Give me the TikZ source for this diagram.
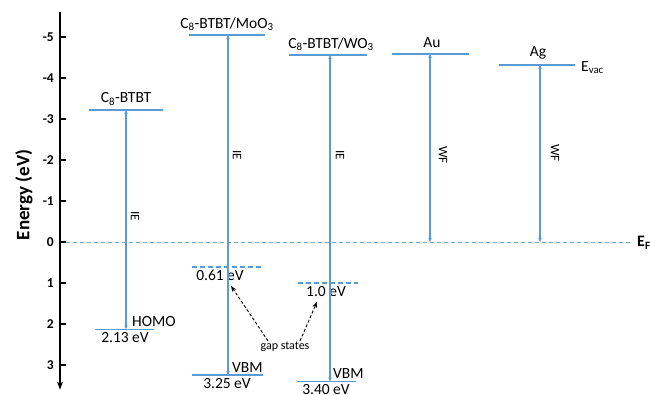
\documentclass[tikz,border=0pt]{standalone}
\usepackage{fontspec}
\setmainfont{Carlito}
\usetikzlibrary{arrows.meta}
\definecolor{levelblue}{RGB}{91,155,213}
\tikzset{
  level/.style={levelblue, line width=1.6pt},
  gaplevel/.style={levelblue, line width=1.6pt, dash pattern=on 5pt off 3pt},
  fermiline/.style={levelblue!85, line width=0.8pt, dash pattern=on 4pt off 3pt},
  ieline/.style={levelblue, line width=1.2pt, {Stealth[length=4pt,width=3.5pt]}-{Stealth[length=4pt,width=3.5pt]}},
  lbl/.style={font=\fontsize{15.5}{17}\selectfont, inner sep=1pt},
  vlbl/.style={font=\fontsize{13}{15}\selectfont, rotate=-90, inner sep=0pt},
  gaparrow/.style={black, line width=0.9pt, dash pattern=on 3pt off 2pt, -{Stealth[length=6pt,width=4.5pt]}}
}
\begin{document}
\begin{tikzpicture}[x=1pt, y={(0,-41pt)}]
    \useasboundingbox (0,-5.902) rectangle (650,3.732);

    % Axis
    \draw[line width=1.8pt, -{Stealth[length=8pt,width=6pt]}] (60,-5.61) -- (60,3.6);
    \foreach \e in {-5,...,3}{
        \draw[line width=1.5pt] (60,\e) -- (66,\e);
        \node[anchor=east, font=\bfseries\fontsize{13.5}{15}\selectfont, inner sep=0pt] (tick\e) at (54,\e) {\e};
    }
    \node[rotate=90, font=\bfseries\fontsize{19}{22}\selectfont] (ylabel) at (24,-1.15) {Energy (eV)};

    % Fermi level
    \draw[fermiline] (66,0) -- (633,0);
    \node[anchor=west, font=\bfseries\fontsize{16}{18}\selectfont, inner sep=0pt] (ef) at (637,0.02) {E\textsubscript{F}};

    % C8-BTBT
    \draw[level] (89,-3.22) -- (163,-3.22);
    \node[lbl, anchor=south] (btbt) at (126,-3.30) {C\textsubscript{8}-BTBT};
    \draw[level] (95,2.13) -- (154,2.13);
    \node[lbl, anchor=south west] (homo) at (131,2.10) {HOMO};
    \node[lbl, anchor=north] (homoval) at (125,2.18) {2.13 eV};
    \coordinate (btbtL) at (126,-3.22);
    \coordinate (btbtH) at (126,2.13);
    \draw[ieline] (btbtH) -- (btbtL);
    \node[vlbl] (ie1) at (135,-0.63) {IE};

    % C8-BTBT/MoO3
    \draw[level] (189,-5.05) -- (265,-5.05);
    \node[lbl, anchor=south] (moo) at (227,-5.12) {C\textsubscript{8}-BTBT/MoO\textsubscript{3}};
    \draw[gaplevel] (192,0.61) -- (263,0.61);
    \node[lbl, anchor=north] (mooval) at (220,0.66) {0.61 eV};
    \draw[level] (192,3.25) -- (263,3.25);
    \node[lbl, anchor=south west] (moovbm) at (231,3.22) {VBM};
    \node[lbl, anchor=north] (moovbmval) at (227,3.30) {3.25 eV};
    \coordinate (mooL) at (228,-5.05);
    \coordinate (mooH) at (228,3.25);
    \draw[ieline] (mooH) -- (mooL);
    \node[vlbl] (ie2) at (237,-2.12) {IE};

    % C8-BTBT/WO3
    \draw[level] (289,-4.56) -- (367,-4.56);
    \node[lbl, anchor=south] (wo) at (331,-4.63) {C\textsubscript{8}-BTBT/WO\textsubscript{3}};
    \draw[gaplevel] (298,1.0) -- (358,1.0);
    \node[lbl, anchor=north] (woval) at (326,1.05) {1.0 eV};
    \draw[level] (297,3.40) -- (356,3.40);
    \node[lbl, anchor=south west] (wovbm) at (332,3.37) {VBM};
    \node[lbl, anchor=north] (wovbmval) at (326,3.44) {3.40 eV};
    \coordinate (woL) at (330,-4.56);
    \coordinate (woH) at (330,3.40);
    \draw[ieline] (woH) -- (woL);
    \node[vlbl] (ie3) at (340,-2.12) {IE};

    % Gap states
    \node[font=\fontsize{12}{14}\selectfont, inner sep=1pt] (gs) at (285,2.56) {gap states};
    \coordinate (gs1) at (231,1.07);
    \coordinate (gs2) at (317,1.46);
    \draw[gaparrow] ([xshift=-17pt]gs.north) -- (gs1);
    \draw[gaparrow] ([xshift=15pt]gs.north) -- (gs2);

    % Au
    \draw[level] (392,-4.59) -- (469,-4.59);
    \node[lbl, anchor=south] (au) at (432,-4.70) {Au};
    \coordinate (auL) at (430,-4.59);
    \coordinate (auF) at (430,0);
    \draw[ieline] (auF) -- (auL);
    \node[vlbl] (wf1) at (443,-2.12) {WF};

    % Ag
    \draw[level] (499,-4.32) -- (575,-4.32);
    \node[lbl, anchor=south] (ag) at (538,-4.43) {Ag};
    \node[lbl, anchor=west] (evac) at (580,-4.26) {E\textsubscript{vac}};
    \coordinate (agL) at (540,-4.32);
    \coordinate (agF) at (540,0);
    \draw[ieline] (agF) -- (agL);
    \node[vlbl] (wf2) at (555,-2.17) {WF};

\end{tikzpicture}
\end{document}
